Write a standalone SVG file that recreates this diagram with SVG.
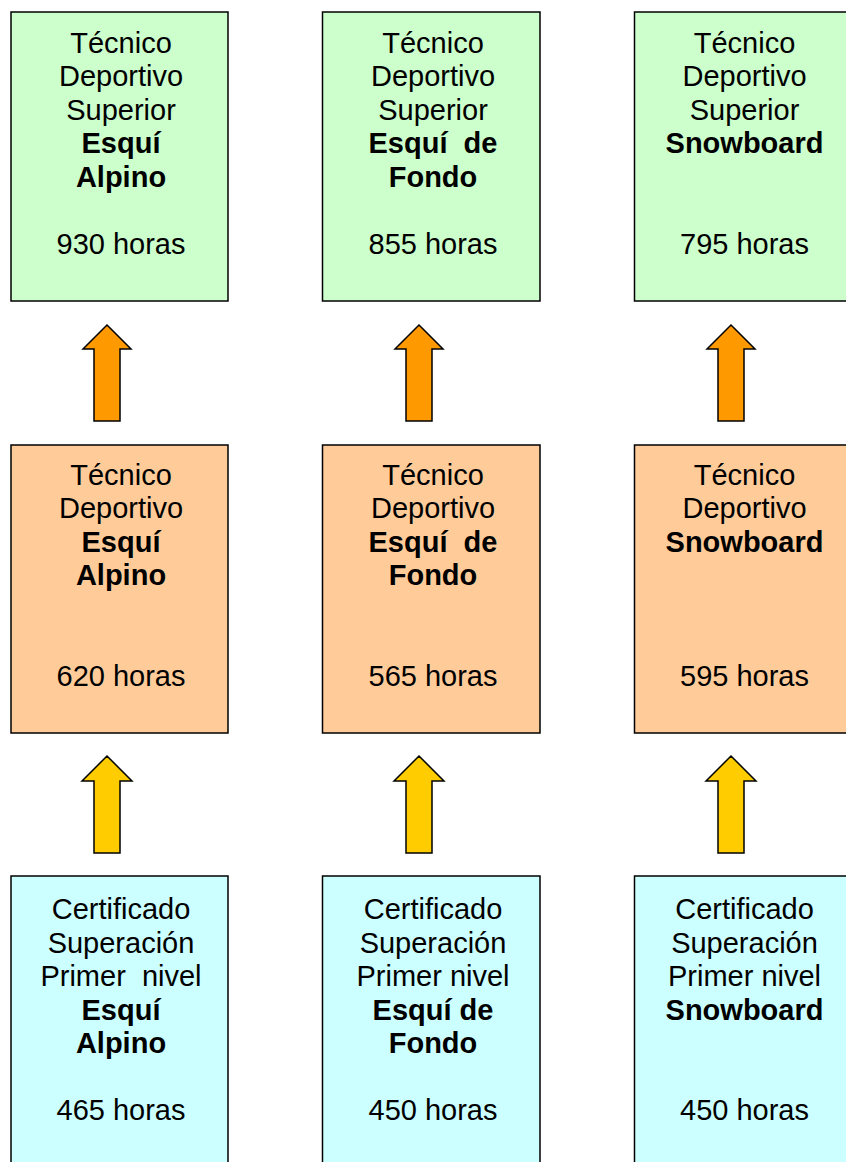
<svg xmlns="http://www.w3.org/2000/svg" width="846" height="1162" viewBox="0 0 846 1162">
<style>
.box{stroke:#000;stroke-width:1.5}
.g{fill:#CCFFCC}
.o{fill:#FFCC99}
.c{fill:#CCFFFF}
text{font-family:"Liberation Sans",Arial,sans-serif;font-size:29px;fill:#000;text-anchor:middle;white-space:pre}
.b{font-weight:bold}
.arr{stroke:#000;stroke-width:1.5;stroke-linejoin:miter}
.ao{fill:#FF9900}
.ay{fill:#FFCC00}
</style>
<defs>
<path id="arrowO" d="M0,0 L24,24 L13,24 L13,96 L-13,96 L-13,24 L-24,24 Z"/>
<path id="arrowY" d="M0,0 L25,25 L13,25 L13,97 L-13,97 L-13,25 L-25,25 Z"/>
</defs>
<rect width="846" height="1162" fill="#fff"/>

<g id="connectors">
<use href="#arrowO" class="arr ao" x="107" y="325"/>
<use href="#arrowO" class="arr ao" x="419" y="325"/>
<use href="#arrowO" class="arr ao" x="731" y="325"/>
<use href="#arrowY" class="arr ay" x="107" y="756"/>
<use href="#arrowY" class="arr ay" x="419" y="756"/>
<use href="#arrowY" class="arr ay" x="731" y="756"/>
</g>

<g id="tds-alpino">
<rect class="box g" x="11" y="12" width="217" height="289"/>
<text x="121" y="52.5">Técnico</text>
<text x="121" y="86">Deportivo</text>
<text x="121" y="119.5">Superior</text>
<text x="121" y="153" class="b">Esquí</text>
<text x="121" y="186.5" class="b">Alpino</text>
<text x="121" y="253.5">930 horas</text>
</g>
<g id="tds-fondo">
<rect class="box g" x="322.5" y="12" width="217.5" height="289"/>
<text x="433" y="52.5">Técnico</text>
<text x="433" y="86">Deportivo</text>
<text x="433" y="119.5">Superior</text>
<text x="433" y="153" class="b">Esquí  de</text>
<text x="433" y="186.5" class="b">Fondo</text>
<text x="433" y="253.5">855 horas</text>
</g>
<g id="tds-snowboard">
<rect class="box g" x="634.5" y="12" width="217" height="289"/>
<text x="744.5" y="52.5">Técnico</text>
<text x="744.5" y="86">Deportivo</text>
<text x="744.5" y="119.5">Superior</text>
<text x="744.5" y="153" class="b">Snowboard</text>
<text x="744.5" y="253.5">795 horas</text>
</g>

<g id="td-alpino">
<rect class="box o" x="11" y="445" width="217" height="288"/>
<text x="121" y="484.5">Técnico</text>
<text x="121" y="518">Deportivo</text>
<text x="121" y="551.5" class="b">Esquí</text>
<text x="121" y="585" class="b">Alpino</text>
<text x="121" y="685.5">620 horas</text>
</g>
<g id="td-fondo">
<rect class="box o" x="322.5" y="445" width="217.5" height="288"/>
<text x="433" y="484.5">Técnico</text>
<text x="433" y="518">Deportivo</text>
<text x="433" y="551.5" class="b">Esquí  de</text>
<text x="433" y="585" class="b">Fondo</text>
<text x="433" y="685.5">565 horas</text>
</g>
<g id="td-snowboard">
<rect class="box o" x="634.5" y="445" width="217" height="288"/>
<text x="744.5" y="484.5">Técnico</text>
<text x="744.5" y="518">Deportivo</text>
<text x="744.5" y="551.5" class="b">Snowboard</text>
<text x="744.5" y="685.5">595 horas</text>
</g>

<g id="cert-alpino">
<rect class="box c" x="11" y="876" width="217" height="300"/>
<text x="121" y="919.3">Certificado</text>
<text x="121" y="952.8">Superación</text>
<text x="121" y="986.3">Primer  nivel</text>
<text x="121" y="1019.8" class="b">Esquí</text>
<text x="121" y="1053.3" class="b">Alpino</text>
<text x="121" y="1120.3">465 horas</text>
</g>
<g id="cert-fondo">
<rect class="box c" x="322.5" y="876" width="217.5" height="300"/>
<text x="433" y="919.3">Certificado</text>
<text x="433" y="952.8">Superación</text>
<text x="433" y="986.3">Primer nivel</text>
<text x="433" y="1019.8" class="b">Esquí de</text>
<text x="433" y="1053.3" class="b">Fondo</text>
<text x="433" y="1120.3">450 horas</text>
</g>
<g id="cert-snowboard">
<rect class="box c" x="634.5" y="876" width="217" height="300"/>
<text x="744.5" y="919.3">Certificado</text>
<text x="744.5" y="952.8">Superación</text>
<text x="744.5" y="986.3">Primer nivel</text>
<text x="744.5" y="1019.8" class="b">Snowboard</text>
<text x="744.5" y="1120.3">450 horas</text>
</g>
</svg>
